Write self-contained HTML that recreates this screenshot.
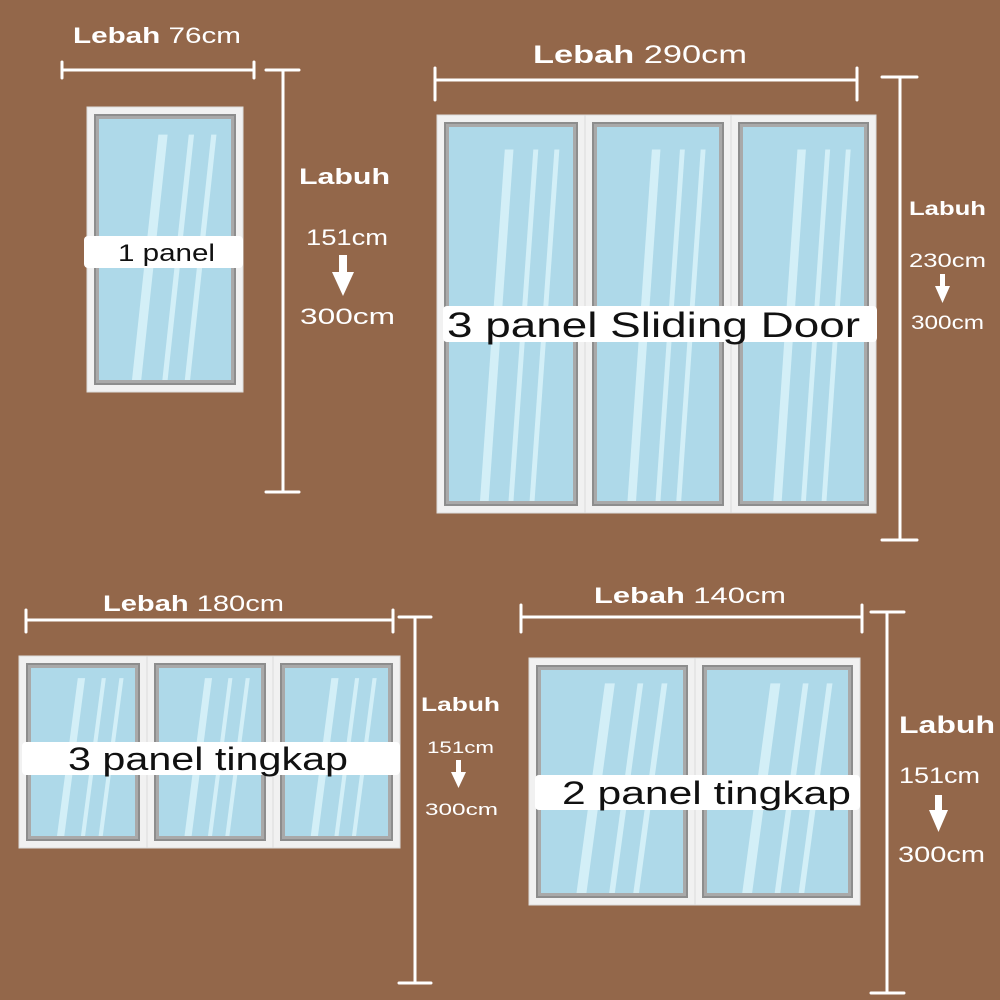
<!DOCTYPE html>
<html><head><meta charset="utf-8"><style>
html,body{margin:0;padding:0;background:#93674a;}
svg{display:block}
text{font-family:"Liberation Sans",sans-serif;}
.w{fill:#fff;}
.b{font-weight:bold}
</style></head><body>
<svg id="s" width="1000" height="1000" xmlns="http://www.w3.org/2000/svg">
<rect width="1000" height="1000" fill="#93674a"/>
<g id="panes"></g>
<g stroke="#fff" stroke-width="3" fill="none" stroke-linecap="round">
<path d="M62 70H254M62 62V78M254 62V78"/>
<path d="M283 70V492M266 70H299M266 492H299"/>
<path d="M435 80H857M435 68V100M857 68V100"/>
<path d="M900 77V540M882 77H917M882 540H917"/>
<path d="M26 620H393M26 610V632M393 610V632"/>
<path d="M415 617V983M399 617H431M399 983H431"/>
<path d="M521 617H862M521 605V632M862 605V632"/>
<path d="M887 612V993M871 612H904M871 993H904"/>
</g>
<g fill="#fff">
<rect x="84" y="236" width="159" height="32" rx="4"/>
<rect x="443" y="306" width="434" height="36" rx="4"/>
<rect x="22" y="742" width="378" height="33" rx="4"/>
<rect x="535" y="775" width="325" height="35" rx="4"/>
</g>
<g fill="#111" font-size="24" lengthAdjust="spacingAndGlyphs">
<text x="118" y="261" textLength="97" lengthAdjust="spacingAndGlyphs">1 panel</text>
<text x="447" y="337" font-size="35" textLength="413" lengthAdjust="spacingAndGlyphs">3 panel Sliding Door</text>
<text x="68" y="770" font-size="32" textLength="280" lengthAdjust="spacingAndGlyphs">3 panel tingkap</text>
<text x="562" y="804" font-size="32" textLength="289" lengthAdjust="spacingAndGlyphs">2 panel tingkap</text>
</g>
<g class="w" font-size="22">
<text x="73" y="43" textLength="168" lengthAdjust="spacingAndGlyphs"><tspan class="b">Lebah</tspan>  76cm</text>
<text x="533" y="63" font-size="25" textLength="214" lengthAdjust="spacingAndGlyphs"><tspan class="b">Lebah</tspan>  290cm</text>
<text x="103" y="611" textLength="181" lengthAdjust="spacingAndGlyphs"><tspan class="b">Lebah</tspan>  180cm</text>
<text x="594" y="603" textLength="192" lengthAdjust="spacingAndGlyphs"><tspan class="b">Lebah</tspan>  140cm</text>
<text x="299" y="184" class="b" textLength="91" lengthAdjust="spacingAndGlyphs">Labuh</text>
<text x="306" y="245" textLength="82" lengthAdjust="spacingAndGlyphs">151cm</text>
<text x="300" y="324" textLength="95" lengthAdjust="spacingAndGlyphs">300cm</text>
<text x="909" y="215" class="b" font-size="19" textLength="77" lengthAdjust="spacingAndGlyphs">Labuh</text>
<text x="909" y="267" font-size="19" textLength="77" lengthAdjust="spacingAndGlyphs">230cm</text>
<text x="911" y="329" font-size="19" textLength="73" lengthAdjust="spacingAndGlyphs">300cm</text>
<text x="421" y="711" class="b" font-size="19" textLength="79" lengthAdjust="spacingAndGlyphs">Labuh</text>
<text x="427" y="753" font-size="17" textLength="67" lengthAdjust="spacingAndGlyphs">151cm</text>
<text x="425" y="815" font-size="17" textLength="73" lengthAdjust="spacingAndGlyphs">300cm</text>
<text x="899" y="733" class="b" font-size="24" textLength="96" lengthAdjust="spacingAndGlyphs">Labuh</text>
<text x="899" y="783" font-size="22" textLength="81" lengthAdjust="spacingAndGlyphs">151cm</text>
<text x="898" y="862" font-size="22" textLength="87" lengthAdjust="spacingAndGlyphs">300cm</text>
</g>
<g fill="#fff">
<path d="M339 255h8v17h7l-11 24l-11-24h7z"/>
<path d="M940 274h5v12h5l-7.5 17l-7.5-17h5z"/>
<path d="M456 760h5v12h5l-7.5 16l-7.5-16h5z"/>
<path d="M935 795h7v15h6l-9.5 22l-9.5-22h6z"/>
</g>
</svg>
<script>
var g=document.getElementById('panes'),h='';
function pane(x,y,w,hh){
 h+='<rect x="'+x+'" y="'+y+'" width="'+w+'" height="'+hh+'" fill="#f1f1f1" stroke="#dcdcdc" stroke-width="1"/>';
 h+='<rect x="'+(x+7)+'" y="'+(y+7)+'" width="'+(w-14)+'" height="'+(hh-14)+'" fill="#8d8d8d"/>';
 h+='<rect x="'+(x+9)+'" y="'+(y+9)+'" width="'+(w-18)+'" height="'+(hh-18)+'" fill="#a9a9a9"/>';
 var gx=x+12,gy=y+12,gw=w-24,gh=hh-24;
 h+='<rect x="'+gx+'" y="'+gy+'" width="'+gw+'" height="'+gh+'" fill="#aed9e9"/>';
 var st=[[.45,.52,.25,.32],[.68,.72,.48,.52],[.85,.89,.65,.69]];
 st.forEach(function(s){
  var t=gy+gh*0.06,b=gy+gh;
  h+='<polygon fill="#d3eff7" points="'+(gx+gw*s[0])+','+t+' '+(gx+gw*s[1])+','+t+' '+(gx+gw*s[3])+','+b+' '+(gx+gw*s[2])+','+b+'"/>';
 });
}
pane(87,107,156,285);
pane(437,115,148,398);pane(585,115,146,398);pane(731,115,145,398);
pane(19,656,128,192);pane(147,656,126,192);pane(273,656,127,192);
pane(529,658,166,247);pane(695,658,165,247);
g.innerHTML=h;
</script>
</body></html>
